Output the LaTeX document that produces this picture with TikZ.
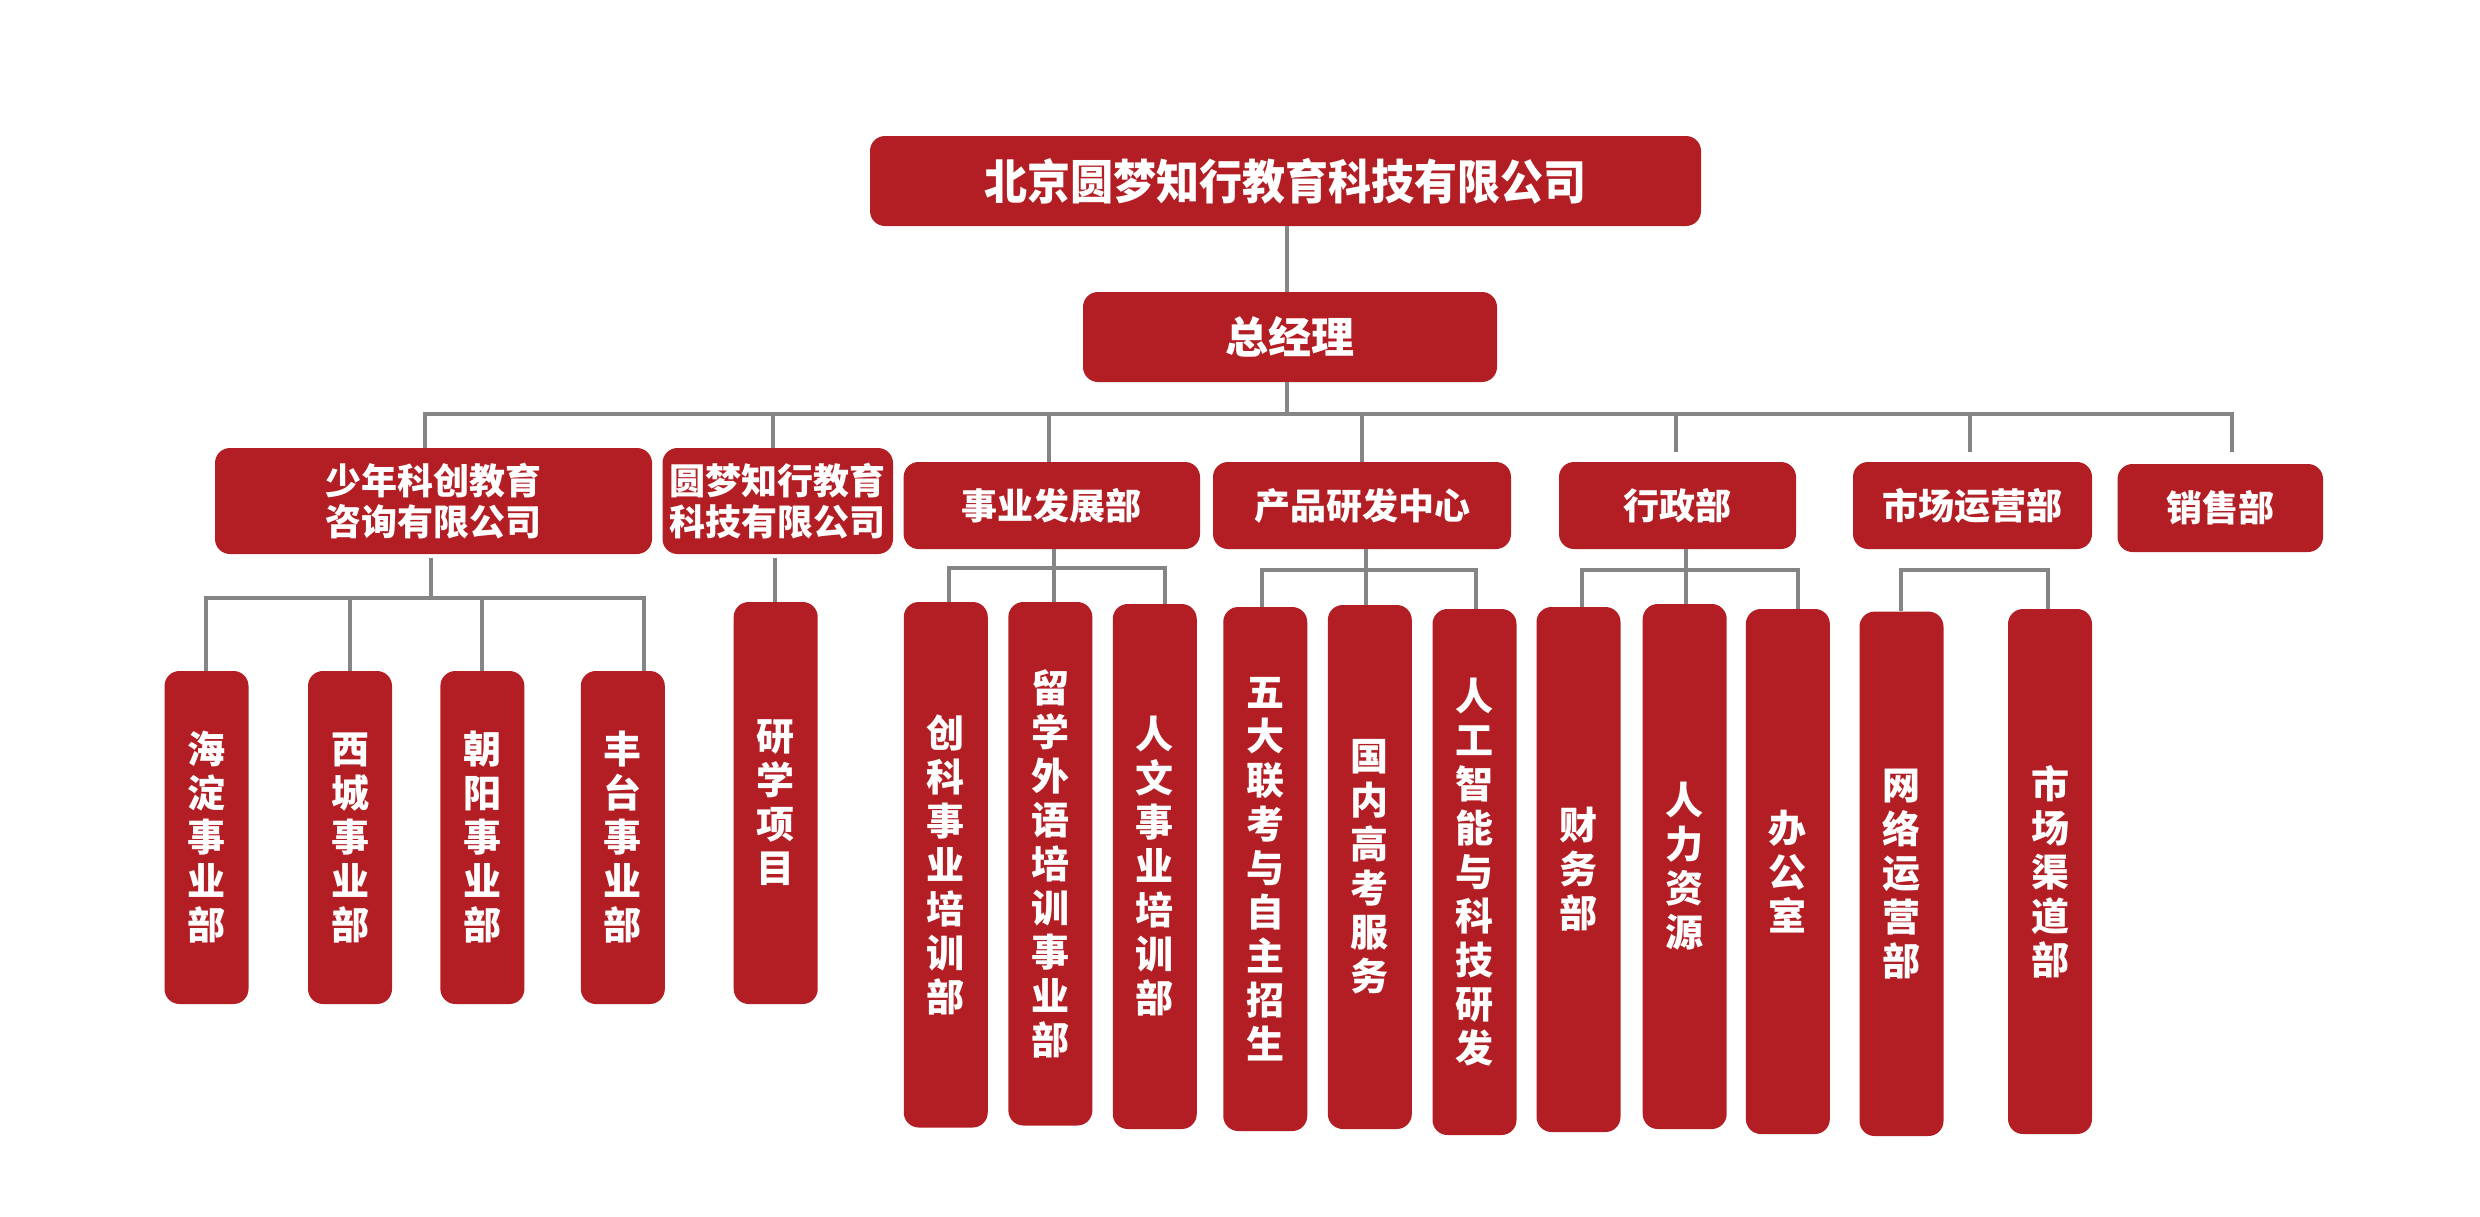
\documentclass[tikz,border=0pt]{standalone}
\usepackage{fontspec}
\newfontfamily\cjk{Noto Sans CJK SC}
\definecolor{myred}{HTML}{B31E24}
\definecolor{mygray}{HTML}{858585}
\tikzset{
  box/.style={fill=myred, rounded corners=7.5pt, text=white, inner sep=0pt, align=center},
  topbox/.style={box, font=\cjk\bfseries\fontsize{21.5pt}{24pt}\selectfont},
  midbox/.style={box, font=\cjk\bfseries\fontsize{18pt}{20.75pt}\selectfont},
  vbox/.style={box, minimum width=42pt, font=\cjk\bfseries\fontsize{19pt}{22pt}\selectfont},
  link/.style={draw=mygray, line width=2pt, line join=miter}
}
\begin{document}
\begin{tikzpicture}[x=0.5pt,y=-0.5pt]
\useasboundingbox (0,0) rectangle (2480,1216);
% level 0 and 1
\node[topbox, minimum width=415.5pt, minimum height=45pt] (top) at (1285.5,181) {\scalebox{1}[1.1]{北京圆梦知行教育科技有限公司}};
\node[topbox, minimum width=207pt, minimum height=45pt] (gm) at (1290,337) {总经理};
% level 2
\node[midbox, minimum width=218.5pt, minimum height=53pt] (A) at (433.5,501) {少年科创教育\\咨询有限公司};
\node[midbox, minimum width=115.25pt, minimum height=53pt] (B) at (777.75,501) {圆梦知行教育\\科技有限公司};
\node[midbox, minimum width=148.2pt, minimum height=43.5pt] (C) at (1051.8,505.5) {事业发展部};
\node[midbox, minimum width=149pt, minimum height=43.5pt] (D) at (1362,505.5) {产品研发中心};
\node[midbox, minimum width=118.5pt, minimum height=43.5pt] (E) at (1677.5,505.5) {行政部};
\node[midbox, minimum width=119.5pt, minimum height=43.5pt] (F) at (1972.5,505.5) {市场运营部};
\node[midbox, minimum width=102.75pt, minimum height=44pt] (G) at (2220.25,508) {销售部};
% level 3
\node[vbox, minimum height=166.5pt] (a1) at (206.5,837.5) {海\\淀\\事\\业\\部};
\node[vbox, minimum height=166.5pt] (a2) at (350,837.5) {西\\城\\事\\业\\部};
\node[vbox, minimum height=166.5pt] (a3) at (482.4,837.5) {朝\\阳\\事\\业\\部};
\node[vbox, minimum height=166.5pt] (a4) at (622.8,837.5) {丰\\台\\事\\业\\部};
\node[vbox, minimum height=201pt] (b1) at (775.7,803) {研\\学\\项\\目};
\node[vbox, minimum height=262.75pt] (c1) at (945.75,864.75) {创\\科\\事\\业\\培\\训\\部};
\node[vbox, minimum height=261.75pt] (c2) at (1050.35,863.75) {留\\学\\外\\语\\培\\训\\事\\业\\部};
\node[vbox, minimum height=262.5pt] (c3) at (1154.75,866.5) {人\\文\\事\\业\\培\\训\\部};
\node[vbox, minimum height=262pt] (d1) at (1265.25,869) {五\\大\\联\\考\\与\\自\\主\\招\\生};
\node[vbox, minimum height=262pt] (d2) at (1369.8,867) {国\\内\\高\\考\\服\\务};
\node[vbox, minimum height=263pt] (d3) at (1474.5,872) {人\\工\\智\\能\\与\\科\\技\\研\\发};
\node[vbox, minimum height=262.5pt] (e1) at (1578.5,869.5) {财\\务\\部};
\node[vbox, minimum height=262.5pt] (e2) at (1684.7,866.5) {人\\力\\资\\源};
\node[vbox, minimum height=262.5pt] (e3) at (1787.85,871.5) {办\\公\\室};
\node[vbox, minimum height=262.2pt] (f1) at (1901.5,873.8) {网\\络\\运\\营\\部};
\node[vbox, minimum height=262.5pt] (f2) at (2050,871.5) {市\\场\\渠\\道\\部};
% coordinates
\coordinate (hub) at (1286.5,414);
\coordinate (dA) at (424.5,414);
\coordinate (dB) at (773,414);
\coordinate (dC) at (1049,414);
\coordinate (dD) at (1362,414);
\coordinate (dE) at (1675.6,414);
\coordinate (dF) at (1969.6,414);
\coordinate (dG) at (2232,414);
\coordinate (eE) at (1675.6,452);
\coordinate (eF) at (1969.6,452);
\coordinate (eG) at (2232,452);
\coordinate (sA) at (430.5,558);
\coordinate (bA) at (430.5,598);
\coordinate (bA1) at (206,598);
\coordinate (bA2) at (350,598);
\coordinate (bA3) at (482.4,598);
\coordinate (bA4) at (644,598);
\coordinate (sB) at (775,558);
\coordinate (sC) at (1053.5,549);
\coordinate (bC1) at (949.4,568);
\coordinate (bC3) at (1164.5,568);
\coordinate (sD) at (1365.7,549);
\coordinate (bD1) at (1261.6,570);
\coordinate (bD3) at (1476,570);
\coordinate (sE) at (1686,549);
\coordinate (bE1) at (1582,570);
\coordinate (bE3) at (1797.5,570);
\coordinate (bF1) at (1900.8,570);
\coordinate (bF2) at (2047.8,570);
% connectors level 0-2
\draw[link] (top.south -| hub) -- (gm.north -| hub);
\draw[link] (gm.south -| hub) -- (hub);
\draw[link] (dA |- A.north) -- (dA) -- (dG) -- (eG);
\draw[link] (dB) -- (dB |- B.north);
\draw[link] (dC) -- (dC |- C.north);
\draw[link] (dD) -- (dD |- D.north);
\draw[link] (dE) -- (eE);
\draw[link] (dF) -- (eF);
% level 2-3
\draw[link] (sA) -- (bA);
\draw[link] (bA1 |- a1.north) -- (bA1) -- (bA4) -- (bA4 |- a4.north);
\draw[link] (bA2) -- (bA2 |- a2.north);
\draw[link] (bA3) -- (bA3 |- a3.north);
\draw[link] (sB) -- (sB |- b1.north);
\draw[link] (sC) -- (sC |- c2.north);
\draw[link] (bC1 |- c1.north) -- (bC1) -- (bC3) -- (bC3 |- c3.north);
\draw[link] (sD) -- (sD |- d2.north);
\draw[link] (bD1 |- d1.north) -- (bD1) -- (bD3) -- (bD3 |- d3.north);
\draw[link] (sE) -- (sE |- e2.north);
\draw[link] (bE1 |- e1.north) -- (bE1) -- (bE3) -- (bE3 |- e3.north);
\draw[link] (bF1 |- f1.north) -- (bF1) -- (bF2) -- (bF2 |- f2.north);
\end{tikzpicture}
\end{document}
